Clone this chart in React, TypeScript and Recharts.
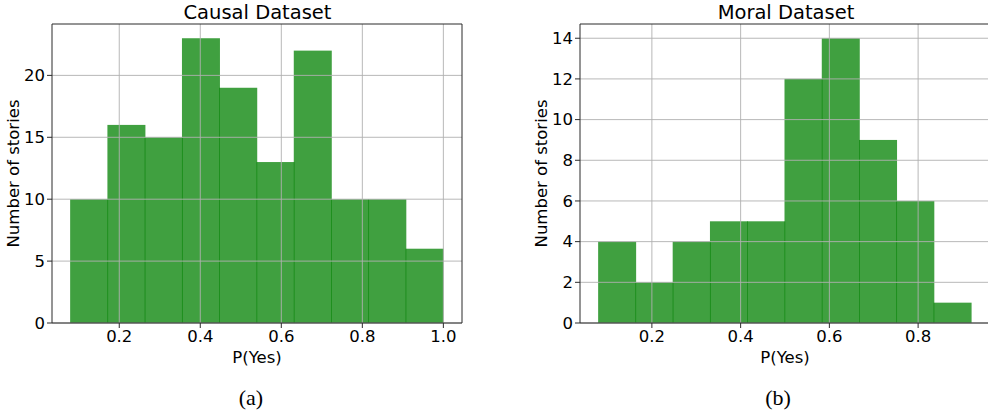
import React from 'react';
import { ComposedChart, Bar, XAxis, YAxis, CartesianGrid, Label } from 'recharts';

const causalEdges = [0.08, 0.172, 0.264, 0.356, 0.448, 0.54, 0.632, 0.724, 0.816, 0.908, 1.0];
const causalCounts = [10, 16, 15, 23, 19, 13, 22, 10, 10, 6];
const causalXTicks = [0.2, 0.4, 0.6, 0.8, 1.0];
const causalYTicks = [0, 5, 10, 15, 20];

const moralEdges = [0.08, 0.164, 0.248, 0.332, 0.416, 0.5, 0.584, 0.668, 0.752, 0.836, 0.92];
const moralCounts = [4, 2, 4, 5, 5, 12, 14, 9, 6, 1];
const moralXTicks = [0.2, 0.4, 0.6, 0.8];
const moralYTicks = [0, 2, 4, 6, 8, 10, 12, 14];

const FONT = '"DejaVu Sans", sans-serif';
const SPINE = '#2b2b2b';
const LABEL_SIZE = 16.5;

const HistBar = (props: any) => {
  const { x, y, width, height } = props;
  if (!height) return null;
  return <rect x={x - 0.5} y={y} width={width + 1} height={height} fill="green" fillOpacity={0.75} />;
};

type PanelProps = {
  edges: number[];
  counts: number[];
  xTicks: number[];
  yTicks: number[];
  xDomain: [number, number];
  yMax: number;
  left: number;
  width: number;
  marginRight: number;
  title: string;
  titleX: number;
  caption: string;
  captionX: number;
  yLabelOffset: number;
};

function Panel(p: PanelProps) {
  const data = p.counts.map((c, i) => ({ x: (p.edges[i] + p.edges[i + 1]) / 2, count: c }));
  const tickStyle = { fontSize: LABEL_SIZE, fill: '#000', fontFamily: FONT };
  return (
    <>
      <div
        style={{
          position: 'absolute',
          left: p.titleX - 150,
          width: 300,
          top: 3,
          textAlign: 'center',
          fontFamily: FONT,
          fontSize: 19.5,
          lineHeight: 1,
          color: '#000',
        }}
      >
        {p.title}
      </div>
      <div
        style={{
          position: 'absolute',
          left: p.captionX - 50,
          width: 100,
          top: 387,
          textAlign: 'center',
          fontFamily: '"Liberation Serif", serif',
          fontSize: 22,
          lineHeight: 1,
          color: '#000',
        }}
      >
        {p.caption}
      </div>
      <div style={{ position: 'absolute', left: p.left, top: 0 }}>
        <ComposedChart
          width={p.width}
          height={412}
          data={data}
          margin={{ top: 24, right: p.marginRight, bottom: 61, left: 0 }}
          barCategoryGap={0}
          barGap={0}
        >
          <Bar dataKey="count" shape={HistBar} isAnimationActive={false} />
          <CartesianGrid stroke="#b0b0b0" strokeWidth={0.9} horizontalValues={p.yTicks} verticalValues={p.xTicks} zIndex={400} />
          <CartesianGrid
            stroke={SPINE}
            strokeWidth={1}
            horizontalValues={[p.yMax]}
            verticalValues={[p.xDomain[1]]}
            zIndex={450}
          />
          <XAxis
            dataKey="x"
            type="number"
            domain={p.xDomain}
            ticks={p.xTicks}
            allowDataOverflow
            height={28}
            tickSize={5}
            tickMargin={2}
            tickFormatter={(v: number) => v.toFixed(1)}
            tick={tickStyle}
            stroke={SPINE}
            axisLine={{ stroke: SPINE, strokeWidth: 1 }}
            tickLine={{ stroke: SPINE, strokeWidth: 1 }}
          >
            <Label value="P(Yes)" position="bottom" offset={0} style={{ fontSize: LABEL_SIZE, fontFamily: FONT, fill: '#000' }} />
          </XAxis>
          <YAxis
            type="number"
            domain={[0, p.yMax]}
            ticks={p.yTicks}
            allowDataOverflow
            width={52}
            tickSize={5}
            tickMargin={2}
            tick={tickStyle}
            axisLine={{ stroke: SPINE, strokeWidth: 1 }}
            tickLine={{ stroke: SPINE, strokeWidth: 1 }}
          >
            <Label
              value="Number of stories"
              angle={-90}
              position="insideLeft"
              offset={p.yLabelOffset}
              style={{ fontSize: LABEL_SIZE, fontFamily: FONT, fill: '#000', textAnchor: 'middle' }}
            />
          </YAxis>
        </ComposedChart>
      </div>
    </>
  );
}

export default function App() {
  return (
    <div
      style={{
        position: 'absolute',
        left: 0,
        top: 0,
        width: 988,
        height: 412,
        overflow: 'hidden',
        background: '#fff',
      }}
    >
      <Panel
        edges={causalEdges}
        counts={causalCounts}
        xTicks={causalXTicks}
        yTicks={causalYTicks}
        xDomain={[0.034, 1.046]}
        yMax={24.15}
        left={0}
        width={470}
        marginRight={8}
        title="Causal Dataset"
        titleX={257.5}
        caption="(a)"
        captionX={251}
        yLabelOffset={13}
      />
      <Panel
        edges={moralEdges}
        counts={moralCounts}
        xTicks={moralXTicks}
        yTicks={moralYTicks}
        xDomain={[0.038, 0.962]}
        yMax={14.7}
        left={528}
        width={462}
        marginRight={0}
        title="Moral Dataset"
        titleX={786}
        caption="(b)"
        captionX={778}
        yLabelOffset={12.7}
      />
    </div>
  );
}
